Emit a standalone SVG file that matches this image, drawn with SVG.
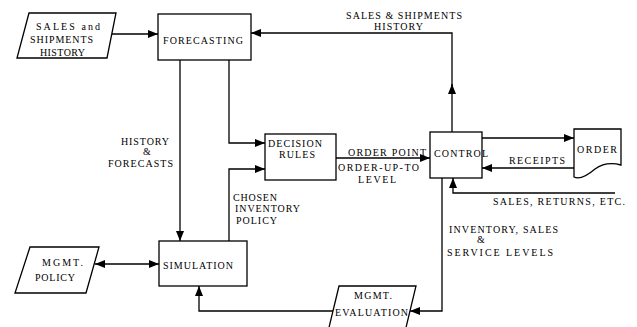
<svg xmlns="http://www.w3.org/2000/svg" width="637" height="327" viewBox="0 0 637 327">
<style>
.box{fill:#fff;stroke:#000;stroke-width:1.3}
.ln{fill:none;stroke:#000;stroke-width:1.3}
text{font-family:"Liberation Serif","Times New Roman",serif;font-size:10px;fill:#000}
</style>
<defs>
<marker id="ah" viewBox="0 0 10 8" refX="10" refY="4" markerWidth="10" markerHeight="8" markerUnits="userSpaceOnUse" orient="auto">
<path d="M0,0 L10,4 L0,8 Z" fill="#000"/>
</marker>
<marker id="ahs" viewBox="0 0 10 8" refX="0" refY="4" markerWidth="10" markerHeight="8" markerUnits="userSpaceOnUse" orient="auto">
<path d="M10,0 L0,4 L10,8 Z" fill="#000"/>
</marker>
</defs>
<rect width="637" height="327" fill="#fff"/>
<g id="connectors">
<path class="ln" d="M112,34 H158" marker-end="url(#ah)"/>
<path class="ln" d="M180,60 V241" marker-end="url(#ah)"/>
<path class="ln" d="M229,60 V143 H265" marker-end="url(#ah)"/>
<path class="ln" d="M229,241 V169 H265" marker-end="url(#ah)"/>
<path class="ln" d="M336,158 H430" marker-end="url(#ah)"/>
<path class="ln" d="M452,132 V84" marker-end="url(#ah)"/>
<path class="ln" d="M452,86 V33 H251" marker-end="url(#ah)"/>
<path class="ln" d="M482,138 H574" marker-end="url(#ah)"/>
<path class="ln" d="M574,168 H482" marker-end="url(#ah)"/>
<path class="ln" d="M615,193 H453 V178" marker-end="url(#ah)"/>
<path class="ln" d="M442,178 V311 H410" marker-end="url(#ah)"/>
<path class="ln" d="M333,311 H199 V286" marker-end="url(#ah)"/>
<path class="ln" d="M95,264 H159" marker-start="url(#ahs)" marker-end="url(#ah)"/>
</g>
<g id="sales-history">
<polygon class="box" points="29,13 116,13 107,58 17,58"/>
<text x="36" y="29.5" textLength="64" lengthAdjust="spacing">SALES  and</text>
<text x="30" y="43" textLength="63">SHIPMENTS</text>
<text x="40" y="56" textLength="45">HISTORY</text>
</g>
<g id="forecasting">
<rect class="box" x="158" y="14" width="93" height="46"/>
<text x="163" y="43.5" textLength="80">FORECASTING</text>
</g>
<g id="decision-rules">
<rect class="box" x="265" y="134" width="71" height="46"/>
<text x="268" y="146.5" textLength="54">DECISION</text>
<text x="279" y="158" textLength="36">RULES</text>
</g>
<g id="simulation">
<rect class="box" x="159" y="241" width="88" height="45"/>
<text x="163" y="268.5" textLength="70">SIMULATION</text>
</g>
<g id="mgmt-policy">
<polygon class="box" points="30,247 99,247 86,293 15,293"/>
<text x="42" y="265.5" textLength="41">MGMT.</text>
<text x="35" y="280.5" textLength="40">POLICY</text>
</g>
<g id="control">
<rect class="box" x="430" y="132" width="52" height="46"/>
<text x="434" y="156.5" textLength="54">CONTROL</text>
</g>
<g id="order">
<path class="box" d="M574,129 H621 V165 C610,162 602,164 595,169 C588,175 580,180 574,177 Z"/>
<text x="577" y="152.5" textLength="40">ORDER</text>
</g>
<g id="mgmt-evaluation">
<polygon class="box" points="339,286 416,286 403,340 326,340"/>
<text x="354" y="298.5" textLength="38">MGMT.</text>
<text x="335" y="315.5" textLength="73">EVALUATION</text>
</g>
<g id="labels">
<text x="346" y="18.5" textLength="116" lengthAdjust="spacing">SALES &amp; SHIPMENTS</text>
<text x="374" y="29.5" textLength="49">HISTORY</text>
<text x="121" y="144.5" textLength="48">HISTORY</text>
<text x="143" y="155" font-size="8">&amp;</text>
<text x="108" y="166.5" textLength="65">FORECASTS</text>
<text x="233" y="200.5" textLength="44">CHOSEN</text>
<text x="235" y="212" textLength="65">INVENTORY</text>
<text x="236" y="223.5" textLength="41">POLICY</text>
<text x="348" y="156" textLength="78" lengthAdjust="spacing">ORDER POINT</text>
<text x="338" y="170.5" textLength="81">ORDER-UP-TO</text>
<text x="358" y="182.5" textLength="38">LEVEL</text>
<text x="509" y="163.5" textLength="56">RECEIPTS</text>
<text x="493" y="204.5" textLength="132" lengthAdjust="spacing">SALES, RETURNS, ETC.</text>
<text x="449" y="232.5" textLength="109" lengthAdjust="spacing">INVENTORY, SALES</text>
<text x="477" y="242.5" font-size="7">&amp;</text>
<text x="447" y="255.5" textLength="106" lengthAdjust="spacing">SERVICE LEVELS</text>
</g>
</svg>
